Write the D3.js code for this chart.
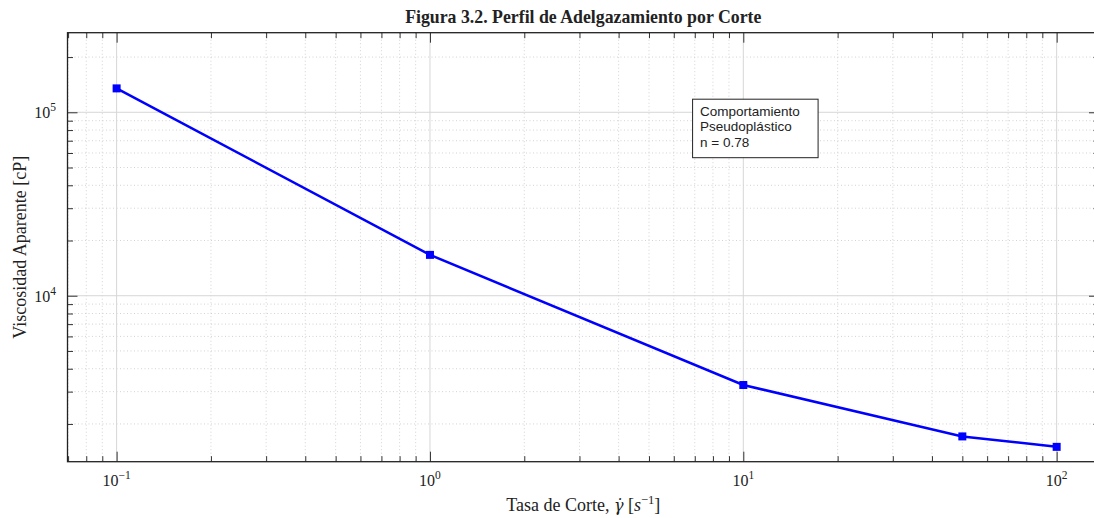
<!DOCTYPE html>
<html>
<head>
<meta charset="utf-8">
<script src="https://cdn.jsdelivr.net/npm/d3@7"></script>
<style>
  body { margin: 0; background: #fff; }
  svg { display: block; }
</style>
</head>
<body>
<script>
// data
var shearRate = [0.1, 1, 10, 50, 100];
var viscosity = [135000, 16700, 3260, 1710, 1500];
var noteLines = ['Comportamiento', 'Pseudoplástico', 'n = 0.78'];

var W = 1094, H = 518;
var pL = 67.5, pR = 1099, pT = 32.7, pB = 461.7;

var svg = d3.select('body').append('svg').attr('width', W).attr('height', H);

var x = d3.scaleLog().domain([0.0697, 136.5]).range([pL, pR]);
var y = d3.scaleLog().domain([1245, 271600]).range([pB, pT]);

function isMajor(v) { return Math.abs(Math.log10(v) - Math.round(Math.log10(v))) < 1e-9; }
var xAll = x.ticks(), yAll = y.ticks();
var xMajor = xAll.filter(isMajor), xMinor = xAll.filter(function(d) { return !isMajor(d); });
var yMajor = yAll.filter(isMajor), yMinor = yAll.filter(function(d) { return !isMajor(d); });

/*GRID*/
var grid = svg.append('g');
grid.selectAll('line.xmin').data(xMinor).enter().append('line')
    .attr('x1', function(d) { return x(d); }).attr('x2', function(d) { return x(d); })
    .attr('y1', pT).attr('y2', pB)
    .attr('stroke', '#c8c8c8').attr('stroke-width', 0.8).attr('stroke-dasharray', '1,2.5');
grid.selectAll('line.ymin').data(yMinor).enter().append('line')
    .attr('y1', function(d) { return y(d); }).attr('y2', function(d) { return y(d); })
    .attr('x1', pL).attr('x2', pR)
    .attr('stroke', '#c8c8c8').attr('stroke-width', 0.8).attr('stroke-dasharray', '1,2.5');
grid.selectAll('line.xmaj').data(xMajor).enter().append('line')
    .attr('x1', function(d) { return x(d); }).attr('x2', function(d) { return x(d); })
    .attr('y1', pT).attr('y2', pB)
    .attr('stroke', '#d6d6d6').attr('stroke-width', 1);
grid.selectAll('line.ymaj').data(yMajor).enter().append('line')
    .attr('y1', function(d) { return y(d); }).attr('y2', function(d) { return y(d); })
    .attr('x1', pL).attr('x2', pR)
    .attr('stroke', '#d6d6d6').attr('stroke-width', 1);

/*AXES (ticks pointing inward on all four sides)*/
function ticks(axisFn, scale, vals, len, tr) {
  svg.append('g').attr('transform', tr)
    .call(axisFn(scale).tickValues(vals).tickSizeInner(-len).tickSizeOuter(0).tickFormat(''))
    .call(function(g) {
      g.select('.domain').remove();
      g.selectAll('line').attr('stroke', '#333').attr('stroke-width', 1);
    });
}
ticks(d3.axisBottom, x, xMajor, 10, 'translate(0,' + pB + ')');
ticks(d3.axisBottom, x, xMinor, 5.5, 'translate(0,' + pB + ')');
ticks(d3.axisTop, x, xMajor, 10, 'translate(0,' + pT + ')');
ticks(d3.axisTop, x, xMinor, 5.5, 'translate(0,' + pT + ')');
ticks(d3.axisLeft, y, yMajor, 10, 'translate(' + pL + ',0)');
ticks(d3.axisLeft, y, yMinor, 5.5, 'translate(' + pL + ',0)');
ticks(d3.axisRight, y, yMajor, 10, 'translate(' + pR + ',0)');
ticks(d3.axisRight, y, yMinor, 5.5, 'translate(' + pR + ',0)');

/*FRAME*/
svg.append('rect').attr('x', pL).attr('y', pT)
    .attr('width', pR - pL).attr('height', pB - pT)
    .attr('fill', 'none').attr('stroke', '#222').attr('stroke-width', 1.3);

/*TICK LABELS*/
var serif = '"Liberation Serif", "Times New Roman", serif';
var xl = svg.selectAll('text.xt').data(xMajor).enter().append('text')
    .attr('x', function(d) { return x(d); }).attr('y', 486)
    .attr('text-anchor', 'middle')
    .attr('font-family', serif).attr('font-size', 16).attr('fill', '#222');
xl.append('tspan').text('10');
xl.append('tspan').attr('dy', -7).attr('font-size', 11.5)
    .text(function(d) { var e = Math.round(Math.log10(d)); return e < 0 ? '\u2212' + (-e) : e; });

var yl = svg.selectAll('text.yt').data(yMajor).enter().append('text')
    .attr('x', 56).attr('y', function(d) { return y(d) + 6; })
    .attr('text-anchor', 'end')
    .attr('font-family', serif).attr('font-size', 16).attr('fill', '#222');
yl.append('tspan').text('10');
yl.append('tspan').attr('dy', -7).attr('font-size', 11.5)
    .text(function(d) { return Math.round(Math.log10(d)); });

/*AXIS TITLES*/
svg.append('text').attr('x', (pL + pR) / 2).attr('y', 23)
    .attr('text-anchor', 'middle').attr('font-family', serif)
    .attr('font-weight', 'bold').attr('font-size', 17.8).attr('fill', '#222')
    .text('Figura 3.2. Perfil de Adelgazamiento por Corte');

var xt = svg.append('text').attr('x', (pL + pR) / 2).attr('y', 511)
    .attr('text-anchor', 'middle').attr('font-family', serif)
    .attr('font-size', 18).attr('fill', '#222');
xt.append('tspan').text('Tasa de Corte, ');
xt.append('tspan').attr('font-style', 'italic').attr('font-family', '"DejaVu Serif", serif')
    .attr('font-size', 16).text('\u03b3\u0307');
xt.append('tspan').text(' [');
xt.append('tspan').attr('font-style', 'italic').text('s');
xt.append('tspan').attr('dy', -7).attr('font-size', 12.5).text('\u22121');
xt.append('tspan').attr('dy', 7).text(']');

svg.append('text')
    .attr('transform', 'translate(26,' + (pT + pB) / 2 + ') rotate(-90)')
    .attr('text-anchor', 'middle').attr('font-family', serif)
    .attr('font-size', 18).attr('fill', '#222')
    .text('Viscosidad Aparente [cP]');

/*DATA*/
var pts = shearRate.map(function(d, i) { return [d, viscosity[i]]; });
svg.append('path').datum(pts)
    .attr('d', d3.line().x(function(d) { return x(d[0]); }).y(function(d) { return y(d[1]); }))
    .attr('fill', 'none').attr('stroke', '#0000ff').attr('stroke-width', 2.5);
svg.selectAll('rect.pt').data(pts).enter().append('rect')
    .attr('x', function(d) { return x(d[0]) - 4; })
    .attr('y', function(d) { return y(d[1]) - 4; })
    .attr('width', 8).attr('height', 8).attr('fill', '#0000ff');

/*NOTE BOX (placed in axes fractions)*/
var bx = pL + 0.606 * (pR - pL), by = pB - 0.845 * (pB - pT);
svg.append('rect').attr('x', bx).attr('y', by).attr('width', 125.5).attr('height', 58.5)
    .attr('fill', '#fff').attr('stroke', '#222').attr('stroke-width', 1);
svg.append('text').attr('font-family', '"Liberation Sans", Arial, sans-serif')
    .attr('font-size', 13.5).attr('fill', '#222')
    .selectAll('tspan').data(noteLines).enter().append('tspan')
    .attr('x', bx + 7.5).attr('y', function(d, i) { return by + 17 + i * 15.2; })
    .text(function(d) { return d; });
</script>
</body>
</html>
